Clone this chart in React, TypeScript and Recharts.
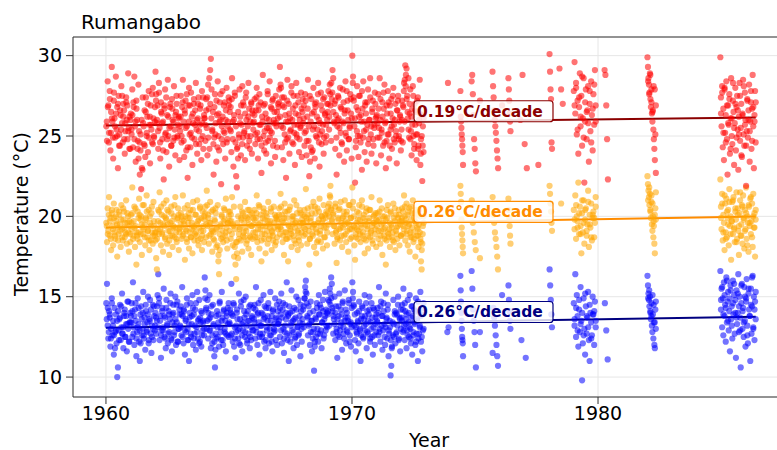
import {
  CartesianGrid,
  ReferenceDot,
  ReferenceLine,
  Scatter,
  ScatterChart,
  XAxis,
  YAxis,
} from 'recharts'

// observation periods (decimal years); each series lists its readings per period
const spans: Array<[number, number]> = [
  [1960, 1961], [1961, 1962], [1962, 1963], [1963, 1964], [1964, 1965],
  [1965, 1966], [1966, 1967], [1967, 1968], [1968, 1969], [1969, 1970],
  [1970, 1971], [1971, 1972], [1972, 1972.92],
  [1973.85, 1973.95], [1974.4, 1974.52], [1974.85, 1975.05], [1975.15, 1975.25],
  [1975.7, 1975.95], [1976.05, 1976.15], [1976.35, 1976.45], [1976.8, 1977.15],
  [1977.5, 1977.65], [1978.02, 1978.14], [1978.4, 1978.6], [1979.0, 1979.92],
  [1980.25, 1980.42], [1982.0, 1982.36], [1984.96, 1986.42],
]

const redObs = [
  '25.6 24.7 28.4 26.9 25.2 27.8 24.1 26.5 29.3 25.9 23.6 27.2 26.1 24.9 28.7 25.4 26.8 23.0 27.5 25.1 24.4 26.3 28.1 25.8 24.6 27.0 26.6 23.9 25.3 27.4 26.0 24.8 28.9 25.5 26.2 24.2',
  '26.4 25.1 27.9 24.3 26.8 28.7 25.6 23.4 27.2 26.0 24.7 28.2 25.3 22.6 24.1 21.7 23.0 22.9 25.8 24.5 26.6 23.7 27.4 25.0 26.2 24.0 27.8 25.7 23.3 26.9 25.4 24.6 28.0 26.1 24.9 25.9',
  '29.0 27.6 25.8 26.9 24.2 28.3 25.5 23.6 27.1 26.4 24.8 25.9 22.3 26.7 27.9 25.2 24.0 26.3 28.5 25.0 23.1 26.8 25.6 24.4 27.3 26.0 24.7 28.1 25.4 23.8 26.5 27.0 24.9 25.7 26.2 23.5',
  '25.3 27.5 24.6 26.8 28.5 25.9 23.7 26.4 27.2 24.1 25.6 22.4 26.9 28.0 25.1 24.3 27.7 26.2 23.2 25.8 27.0 24.8 26.6 28.3 25.4 23.9 26.1 27.4 24.5 25.7 26.9 23.5 27.8 25.0 24.2 26.3',
  '26.1 24.7 27.3 25.5 23.8 28.2 26.7 24.2 29.1 29.8 27.9 25.3 26.5 22.6 24.9 27.6 25.8 23.4 26.3 28.4 25.0 24.1 27.1 26.0 22.0 25.6 27.8 24.5 26.9 25.2 23.6 26.6 28.0 24.8 25.9 27.4',
  '27.2 25.4 26.8 24.0 28.6 25.9 23.1 26.3 27.7 24.6 22.5 21.8 24.3 26.5 25.1 27.9 26.2 23.8 25.7 28.1 24.9 26.9 25.3 23.5 27.4 26.0 24.4 25.6 28.3 26.7 24.2 25.0 27.1 23.9 26.4 25.8',
  '25.9 27.3 24.5 26.6 28.0 25.2 23.6 26.9 27.6 24.8 25.7 22.7 26.2 28.8 25.0 24.1 27.0 26.4 23.9 25.5 27.8 24.7 26.0 28.4 25.3 23.3 26.7 27.2 24.4 25.8 26.5 23.7 27.5 25.6 24.3 26.1',
  '26.8 27.9 29.3 28.2 25.6 24.3 26.9 23.5 27.4 25.1 26.3 22.4 24.8 28.5 25.9 27.0 23.9 26.1 25.4 28.1 24.6 26.7 27.5 25.2 23.2 26.4 28.3 24.9 25.7 27.1 24.0 26.0 25.5 27.7 23.7 26.5',
  '25.8 26.9 24.4 27.6 25.3 23.8 26.2 28.5 24.7 22.5 23.4 25.9 27.3 26.4 24.1 28.0 25.6 23.6 26.8 27.1 24.9 25.4 28.3 26.0 23.1 25.1 27.7 24.5 26.6 25.7 23.9 27.4 26.3 24.6 25.0 27.0',
  '26.5 27.8 25.4 28.2 26.9 24.7 27.3 29.1 28.6 25.9 27.0 24.2 26.3 22.6 25.6 27.5 26.1 23.8 28.0 25.2 26.7 24.5 27.9 25.8 23.4 26.6 28.4 25.0 24.1 27.2 26.0 24.8 25.5 27.6 26.4 23.6',
  '30.0 28.7 27.4 25.6 22.1 24.3 26.8 28.1 25.0 23.7 26.2 27.5 24.6 25.9 22.9 26.7 28.4 25.3 24.0 27.1 26.4 23.4 25.7 27.9 24.8 26.0 28.6 25.1 23.9 26.5 27.2 24.4 25.5 27.7 26.1 23.3',
  '26.3 24.9 27.6 25.5 28.6 26.0 23.8 25.2 27.1 24.4 26.7 28.2 25.8 23.0 24.7 26.4 27.8 25.1 23.6 26.9 25.4 27.3 24.2 26.1 28.0 25.7 24.6 27.0 25.0 23.3 26.6 27.5 24.8 25.9 26.2 24.1',
  '25.4 27.2 24.6 26.8 28.3 25.9 29.4 28.8 29.2 27.5 26.1 28.6 24.9 26.4 27.9 25.3 23.8 26.7 28.1 25.0 24.2 27.0 25.7 26.5 23.5 25.1 27.4 24.4 26.0 28.5 23.2 24.8 26.3 22.2 25.6 24.0',
  '28.3',
  '27.8 26.2 25.9 25.5 25.1 24.8 24.4 24.0 23.2',
  '28.4 28.8 27.6 26.3 24.8 24.2 23.3 22.8',
  '27.2',
  '29.0 28.1 27.4 26.6 26.0 25.6 25.2 24.7 24.1 23.6 23.0',
  '26.9',
  '28.6 27.9 27.2 26.4 25.9 25.3',
  '26.0 28.8 24.5 23.0',
  '23.2',
  '30.1 29.0 27.9 27.3 24.6 24.2',
  '29.2 27.9 27.0',
  '27.8 29.6 26.4 28.3 25.1 27.2 23.9 26.8 28.9 25.6 27.5 24.4 26.1 28.6 22.1 25.9 27.9 24.8 26.6 28.1 23.4 27.0 25.3 28.4 26.3 24.1 27.6 25.7 29.1 26.9',
  '29.1 28.8 26.9 24.8 22.3',
  '29.9 29.3 28.6 28.2 27.7 28.9 27.3 26.8 27.9 26.4 25.9 26.6 25.4 24.8 24.2 23.5 25.1 22.7',
  '29.9 27.4 25.6 28.1 24.3 26.7 23.5 27.9 25.2 26.3 28.4 24.8 22.6 26.9 25.7 27.6 23.9 26.1 28.6 25.0 24.5 27.2 26.5 23.2 25.8 28.0 24.1 26.8 27.5 25.4 22.9 26.2 28.3 24.7 25.5 27.0 23.7 26.4 28.5 25.1 24.4 27.7 26.0 21.9 25.3 27.3 24.9 26.6 28.2 23.4 25.9 27.1 24.2 26.7 28.8 25.6 23.0 26.3 27.8 24.6',
]

// second pass of readings in the same periods (fills the dense core)
const redExtra = [
  '25.9 26.8 24.6 27.3 25.2 26.1 24.9 27.7 25.6 26.4 25.0 27.0 24.4 26.6 25.4 27.5 26.2 24.8 25.8 27.1 26.9 25.3 24.2 26.0',
  '25.4 26.3 27.1 24.8 25.9 26.7 24.2 23.6 24.6 25.1 26.0 27.4 25.6 24.4 26.5 25.2 27.0 24.9 26.2 25.7 27.6 24.5 25.0 26.8',
  '27.2 26.0 25.3 27.7 24.6 26.5 25.8 24.1 26.9 25.1 27.4 24.8 26.2 25.5 27.0 24.4 26.7 25.9 24.9 26.3 27.5 25.0 26.1 25.6',
  '26.2 25.0 27.1 24.7 26.6 25.5 27.6 24.3 25.9 26.9 25.2 24.9 26.4 27.3 25.7 24.5 26.0 27.0 25.3 26.7 24.8 25.8 27.4 26.1',
  '25.7 26.6 27.4 24.9 28.6 27.0 26.1 25.4 24.5 26.8 25.1 27.2 24.3 26.4 25.9 27.6 24.8 26.2 25.3 27.1 26.0 24.6 25.6 26.9',
  '26.5 25.3 27.3 24.8 26.0 27.5 25.6 24.2 23.6 24.9 25.8 26.9 24.5 27.1 25.2 26.4 27.7 25.0 26.2 24.7 25.9 27.0 26.6 25.4',
  '26.3 25.1 27.4 24.8 26.6 25.7 27.1 24.4 25.9 26.9 25.3 24.6 26.1 27.6 25.5 24.9 26.8 25.2 27.3 26.0 24.7 25.8 26.5 27.0',
  '27.1 26.2 28.0 27.4 25.5 26.8 24.6 25.9 27.2 24.9 26.4 25.3 27.7 26.0 24.5 25.7 26.9 25.1 27.5 26.3 24.8 25.6 26.7 27.3',
  '26.1 25.2 27.2 24.7 26.7 25.6 27.5 24.3 24.0 25.4 26.5 27.0 25.0 26.2 27.6 24.6 25.8 26.9 25.3 27.3 24.9 26.4 25.7 26.0',
  '27.0 26.2 27.6 28.3 27.7 26.5 25.8 27.2 24.9 26.0 27.4 25.5 26.8 24.6 25.9 27.1 26.4 25.2 27.8 26.6 24.8 25.6 27.3 26.1',
  '28.3 27.2 26.1 24.7 25.3 26.6 27.5 25.0 26.3 27.8 24.9 25.9 26.9 25.4 27.1 24.5 26.0 27.4 25.6 26.7 24.8 25.7 27.0 26.2',
  '25.8 26.7 24.9 27.3 25.4 26.2 27.7 24.6 25.9 26.9 25.1 27.1 24.4 26.4 25.6 27.5 24.8 26.0 25.3 26.6 27.2 25.0 26.3 24.7',
  '26.0 26.9 27.8 28.5 28.1 27.3 26.5 25.4 27.0 24.8 26.2 25.7 27.5 24.5 26.6 25.1 27.2 24.2 25.8 26.4 23.9 25.0 24.4 26.1',
  '', '', '', '', '', '', '', '', '', '', '',
  '26.9 28.0 25.4 27.4 26.2 28.7 24.9 27.1 26.5 25.8 27.8 24.6 26.7 28.2 25.9',
  '',
  '28.4 27.6 28.8 27.1 26.5 28.1 27.9 26.9',
  '26.4 27.7 25.2 28.0 24.6 26.9 25.8 27.3 24.2 26.1 28.3 25.5 27.0 24.9 26.6 25.1 27.5 23.8 26.3 28.1 25.7 24.4 27.2 26.0 25.3 27.8 24.7 26.8 25.9 27.1',
]

const orangeObs = [
  '19.6 18.4 20.5 19.1 21.2 18.8 19.9 17.9 20.2 19.4 18.2 20.8 19.0 18.6 19.7 20.4 17.5 19.3 18.9 20.1 19.5 18.1 20.7 19.2 18.5 19.8 20.3 18.7 19.0 21.0 18.3 19.6 20.0 17.8 19.4 18.9',
  '20.1 19.2 21.8 18.6 19.7 20.6 18.1 19.4 17.0 18.8 20.3 19.0 21.1 18.4 19.8 20.0 17.6 19.3 18.9 20.7 19.5 18.2 19.9 21.3 18.7 19.1 20.4 17.9 19.6 18.5 20.2 19.0 18.3 20.9 19.4 18.8',
  '18.5 17.4 16.7 19.2 20.4 18.9 21.5 19.6 18.2 20.1 19.0 17.8 20.8 19.4 18.6 19.9 21.0 18.3 19.5 20.3 17.6 19.1 18.8 20.6 19.7 18.1 19.3 20.0 18.7 21.2 19.0 18.4 19.8 20.5 17.9 19.2',
  '19.3 20.2 18.6 19.8 21.3 18.9 19.5 17.3 20.0 19.1 18.4 20.7 19.6 18.0 19.9 20.4 18.7 19.2 17.7 20.9 19.4 18.5 20.1 19.0 18.8 21.0 19.7 18.2 19.3 20.5 18.6 19.9 17.9 20.3 19.1 18.4',
  '19.8 20.6 18.7 21.6 19.4 20.1 18.3 19.6 20.9 18.9 19.2 17.8 20.4 19.0 18.5 19.7 20.2 18.1 19.3 20.7 17.2 16.4 17.9 19.5 18.6 20.0 19.1 18.4 20.5 19.8 18.8 21.1 19.3 18.0 19.6 20.3',
  '19.1 20.3 18.6 19.7 21.2 18.2 19.4 17.5 18.1 17.0 16.1 18.4 19.6 20.0 18.9 19.2 20.6 18.5 19.8 17.8 20.2 19.0 18.7 20.9 19.3 18.3 19.9 20.4 18.0 19.5 18.8 20.1 17.6 19.4 18.6 19.9',
  '19.5 20.4 18.7 19.9 21.3 18.4 19.2 20.7 18.0 19.6 20.1 17.2 18.9 19.4 20.5 18.6 19.8 17.7 20.2 19.1 18.3 20.9 19.5 18.8 19.7 20.3 17.9 19.0 18.5 20.6 19.3 18.2 19.9 20.0 18.7 19.4',
  '19.8 20.5 18.9 21.4 19.2 20.1 18.4 19.6 17.6 20.8 19.0 18.6 19.9 20.3 17.2 19.4 18.7 20.6 19.1 18.1 20.0 19.5 18.8 21.0 19.3 18.3 19.7 20.2 17.9 19.0 18.5 20.4 19.6 18.2 19.8 20.1',
  '19.6 18.8 20.4 19.2 21.7 19.9 18.3 20.1 19.4 17.0 18.6 19.7 20.6 18.9 19.3 20.9 18.1 19.5 20.2 17.7 19.0 20.5 18.5 19.8 21.1 19.1 18.4 20.0 19.6 18.0 20.7 19.3 18.7 19.9 20.3 18.2',
  '20.2 19.5 20.8 21.3 21.9 20.5 19.8 18.9 20.1 19.4 18.3 20.6 19.0 17.1 18.7 19.9 20.4 19.2 18.5 20.9 19.6 18.1 19.3 20.0 18.8 21.0 19.7 18.4 20.3 19.1 17.8 19.5 20.7 18.6 19.9 19.2',
  '21.8 20.9 19.4 18.2 17.3 18.9 19.6 20.3 18.6 19.1 20.7 19.8 18.4 19.3 21.0 18.8 19.9 20.1 17.7 19.5 18.5 20.5 19.2 18.0 19.7 20.4 18.7 19.0 21.2 19.4 18.3 20.0 19.6 18.9 20.2 18.1',
  '19.4 20.2 18.6 19.8 21.0 18.3 19.1 20.5 17.6 19.6 18.8 20.0 19.3 17.0 18.5 19.9 20.7 18.9 19.2 18.1 20.3 19.5 18.7 19.0 20.8 18.4 19.7 17.9 20.1 19.3 18.6 19.9 20.4 18.2 19.5 18.8',
  '19.7 20.5 18.9 19.4 21.3 20.0 18.5 19.8 20.8 19.1 18.2 20.3 19.5 17.8 19.0 20.6 18.7 19.3 21.0 18.4 19.9 20.2 17.5 19.6 18.8 20.1 19.2 18.1 20.4 19.0 18.6 17.2 16.7 18.3 19.4 20.0',
  '',
  '21.9 21.4 20.9 19.8 19.3 18.9 18.5 18.1 17.7',
  '21.0 19.6 19.0 18.4 17.9',
  '17.4',
  '21.2 20.1 19.6 19.0 18.6 18.1 17.5 16.7',
  '',
  '21.1 20.4 19.9 19.4 18.8 18.3',
  '',
  '',
  '21.9 21.4 20.8 20.3 19.6 19.1',
  '20.8',
  '20.4 19.2 21.3 18.6 20.0 19.7 22.1 18.9 20.6 19.4 17.7 20.2 19.0 21.0 18.3 19.8 20.5 18.8 19.5 21.6 18.1 20.1 19.3 20.8 18.5 19.9 20.3 18.7 19.6 21.2',
  '',
  '22.5 22.0 21.6 21.2 20.7 21.4 20.3 19.9 20.9 19.5 19.1 20.0 18.7 19.4 18.3 17.7 20.5 19.8',
  '22.3 20.6 19.2 21.4 18.5 20.1 19.6 17.9 20.8 19.0 21.1 18.7 19.9 20.4 18.2 21.7 19.4 20.0 17.3 19.7 20.9 18.9 21.2 19.3 18.4 20.3 19.8 21.5 18.6 20.5 19.1 17.6 20.2 21.0 18.8 19.5 20.7 18.3 21.3 19.9 18.0 20.4 19.2 21.8 18.6 20.0 19.6 17.8 20.6 19.4 21.1 18.9 19.7 20.8 18.1 21.4 19.3 20.2 17.5 19.8',
]

const orangeExtra = [
  '19.4 18.9 20.1 19.7 18.6 20.4 19.2 19.9 18.8 20.0 19.5 18.5 20.3 19.1 19.8 18.7 20.5 19.3 19.6 18.9 20.2 19.0 19.7 18.4',
  '19.6 20.2 18.8 19.3 20.5 19.0 18.6 19.9 20.1 18.9 19.5 20.7 19.2 18.7 19.8 20.3 19.1 18.5 20.0 19.4 20.6 18.8 19.7 19.0',
  '19.0 18.6 19.7 20.3 19.2 20.6 18.9 19.5 20.0 18.7 19.8 20.4 19.1 18.5 19.6 20.2 18.8 19.4 20.7 19.3 18.6 19.9 20.1 19.0',
  '19.5 20.0 18.8 19.7 20.5 19.2 18.6 19.9 20.2 19.0 18.7 19.6 20.4 19.3 18.9 20.1 19.5 18.5 19.8 20.6 19.1 18.8 19.4 20.0',
  '20.2 19.5 20.7 19.9 18.8 19.6 20.3 19.1 18.6 19.8 20.5 19.2 18.2 17.6 18.9 19.4 20.1 18.7 19.7 20.4 19.0 18.5 19.6 20.0',
  '19.7 20.1 18.9 19.5 20.6 19.2 18.4 17.7 17.4 18.6 19.3 19.9 20.3 18.8 19.6 20.0 19.1 18.5 19.8 20.4 18.7 19.4 20.2 19.0',
  '19.8 19.0 20.2 18.7 19.5 20.6 19.2 18.5 19.9 20.3 18.9 19.4 20.0 19.7 18.6 19.3 20.5 19.1 18.8 19.6 20.1 18.4 19.8 19.2',
  '20.1 19.3 20.6 19.7 18.8 19.9 20.3 19.0 18.6 19.5 20.4 19.2 18.9 19.8 20.0 18.5 19.6 20.7 19.1 18.7 19.4 20.2 19.0 19.6',
  '19.3 20.0 18.9 19.7 20.5 19.1 18.6 19.9 20.2 18.8 19.5 20.6 19.2 18.4 19.6 20.3 18.9 19.4 20.0 19.8 18.7 20.1 19.3 19.0',
  '20.6 20.0 21.2 20.4 19.7 20.2 19.4 20.8 19.1 18.6 19.8 20.5 19.3 18.8 19.9 20.3 19.5 18.9 20.1 19.6 20.7 19.2 19.9 18.7',
  '20.5 20.0 19.3 18.7 19.2 19.8 20.2 18.9 19.5 20.6 19.0 18.6 19.7 20.3 19.4 18.8 19.9 20.4 19.1 18.5 19.6 20.1 19.2 19.8',
  '19.7 19.1 20.3 18.8 19.5 20.0 19.2 18.6 19.8 20.4 19.0 18.7 19.6 20.2 19.3 18.5 19.9 20.5 19.1 18.9 19.4 20.1 19.7 18.8',
  '19.9 20.3 19.2 20.6 19.6 18.9 20.1 19.4 20.5 18.7 19.8 20.2 19.0 18.6 19.7 20.4 19.3 18.8 19.5 20.0 18.4 17.9 18.9 19.6',
  '', '', '', '', '', '', '', '', '', '', '',
  '19.8 20.7 19.3 20.2 18.9 21.0 19.6 20.4 19.1 20.9 19.5 18.7 20.1 19.9 20.6',
  '',
  '21.0 21.8 20.4 21.3 20.8 19.7 20.1 21.5',
  '19.9 20.8 19.0 21.3 18.6 20.3 19.5 20.9 18.9 19.7 21.0 19.2 20.5 18.4 20.1 19.4 21.5 18.8 20.6 19.8 19.1 20.2 18.2 20.7 19.6 21.2 18.7 20.0 19.3 20.4',
]

const blueObs = [
  '14.6 15.8 13.2 12.4 14.1 13.7 11.9 13.0 14.9 12.6 13.5 11.4 14.3 12.8 13.9 12.1 10.0 10.6 12.9 13.6 14.5 12.3 13.1 15.2 12.7 11.8 13.8 14.2 12.5 13.3 11.6 14.7 13.0 12.2 13.4 14.0',
  '13.8 14.6 12.5 15.9 13.1 12.0 14.2 13.5 11.3 12.8 14.9 13.3 12.2 11.0 13.9 14.4 12.6 13.0 15.3 12.4 13.7 11.7 14.1 12.9 13.4 15.0 12.1 13.6 14.8 12.7 11.5 13.2 14.5 12.3 13.8 12.9',
  '14.0 12.7 13.5 15.1 16.4 14.6 12.3 13.8 11.2 12.9 14.3 13.1 15.5 12.5 13.7 11.8 14.8 13.3 12.1 14.1 12.8 13.6 15.2 12.4 11.6 13.9 14.5 12.6 13.2 15.0 12.0 13.4 14.7 12.2 13.0 14.2',
  '13.2 14.4 12.6 15.6 13.8 12.1 14.1 11.4 13.5 12.8 14.9 13.0 12.3 11.0 13.7 14.6 12.5 13.3 15.1 12.0 13.9 12.7 14.2 11.7 13.1 15.3 12.4 13.6 14.8 12.2 13.4 11.9 14.0 12.9 13.5 12.6',
  '16.2 15.4 14.3 13.0 14.8 12.4 13.6 15.1 12.9 11.8 13.9 12.1 14.5 13.2 11.3 10.6 12.7 13.8 14.1 12.5 13.4 11.9 14.7 13.1 12.3 15.3 13.7 12.0 14.2 12.8 13.5 11.6 14.0 12.6 13.3 14.6',
  '13.4 14.2 12.6 15.8 13.9 12.2 14.6 11.9 13.1 11.2 12.8 14.0 13.6 12.4 15.2 13.0 12.0 14.4 13.3 11.6 12.9 14.8 13.7 12.5 15.0 13.2 12.1 14.1 12.7 13.5 11.8 14.5 12.3 13.8 12.9 14.3',
  '13.6 14.5 12.4 15.6 13.1 12.0 14.0 13.4 11.4 12.7 14.8 13.2 12.5 13.9 15.1 12.2 13.7 11.8 14.3 12.9 13.5 14.6 12.1 13.0 15.3 12.6 13.8 11.6 14.2 12.8 13.3 14.9 12.3 13.6 12.0 14.1',
  '13.3 14.7 12.5 13.9 15.2 12.1 14.2 13.0 11.5 12.8 14.5 13.6 15.9 12.3 13.8 11.0 12.6 14.0 13.2 15.4 12.9 13.5 11.8 14.3 12.4 13.7 15.0 12.0 13.1 14.8 12.7 13.4 11.3 14.1 12.2 13.6',
  '14.2 13.1 14.9 15.6 16.0 15.2 13.8 12.6 14.4 13.3 12.0 14.7 13.5 11.6 12.8 14.1 10.4 11.9 13.7 12.5 14.6 13.0 12.2 15.1 13.9 12.7 14.3 11.8 13.4 14.8 12.4 13.6 15.3 12.9 13.2 14.0',
  '13.9 14.8 13.2 15.5 14.5 16.2 15.8 14.1 12.7 13.6 15.0 12.3 14.4 13.0 11.2 12.6 13.8 15.2 12.9 14.2 13.4 11.7 14.7 13.1 12.4 15.4 13.7 12.1 14.0 12.8 13.5 14.6 12.2 13.3 11.9 14.3',
  '15.9 15.3 14.4 13.2 12.3 11.6 12.8 14.0 13.5 12.1 14.7 13.0 11.0 12.6 13.8 14.3 12.4 13.6 15.1 12.9 13.3 11.8 14.1 12.7 13.9 15.0 12.2 13.4 14.6 12.5 11.4 13.1 14.2 12.0 13.7 12.8',
  '13.5 14.3 12.6 15.6 13.0 12.2 14.7 13.8 11.7 12.9 14.1 13.3 12.0 15.2 13.6 12.4 14.5 11.3 12.7 13.1 10.1 10.7 11.9 13.4 14.8 12.5 13.9 12.1 14.0 12.8 13.2 15.0 12.3 13.7 11.6 14.2',
  '13.7 14.5 12.8 15.5 13.2 12.3 14.1 13.6 11.8 12.9 14.8 13.4 12.5 15.1 13.0 12.1 14.4 11.4 13.8 12.6 14.2 13.3 12.0 14.9 12.7 13.5 11.0 12.4 14.0 13.1 15.3 12.2 13.9 11.6 12.9 14.6',
  '12.8 13.1',
  '16.3 15.4 14.7 14.0 13.5 13.0 12.5 12.3 12.1 11.3',
  '16.6 15.5 14.2 13.5 12.8 12.0 10.6',
  '12.8',
  '11.5 14.3 13.7 13.2 12.6 12.0 11.3 10.7',
  '15.1',
  '15.7 14.8 14.1 13.5 13.0',
  '12.3 11.2',
  '',
  '16.7 15.7 14.8 13.9 13.1',
  '',
  '14.6 13.2 16.4 12.5 15.1 13.8 11.9 14.2 12.8 15.6 13.5 9.8 12.1 14.9 13.0 11.4 14.4 12.7 13.7 15.3 12.3 11.0 14.0 13.4 12.6 15.0 13.9 12.0 14.7 13.1',
  '14.6 12.9 11.1',
  '16.3 15.7 15.2 14.8 14.4 15.0 14.0 13.6 14.6 13.2 12.8 13.9 12.4 13.4 12.0 11.8 14.2 13.0',
  '16.6 14.2 15.5 13.1 14.9 12.6 15.9 13.8 14.5 12.2 16.2 13.4 14.7 15.3 12.9 14.1 11.6 15.7 13.6 14.4 12.4 16.0 13.9 15.1 12.7 14.8 11.2 15.4 13.3 14.0 16.4 12.8 15.0 13.7 10.6 14.6 15.8 13.0 14.3 12.5 15.6 13.5 11.9 14.9 16.1 13.2 12.1 15.2 14.2 13.8 11.0 15.5 12.7 14.4 16.3 13.1 15.0 12.3 14.7 13.6',
]

const blueExtra = [
  '13.6 14.3 12.8 13.9 12.4 14.6 13.2 12.6 11.8 12.9 13.5 14.1 12.3 13.7 14.4 12.7 13.1 14.0 12.5 13.8 13.3 14.7 12.2 13.4',
  '13.4 14.1 12.7 13.8 14.6 12.4 13.1 14.3 12.9 12.1 13.6 14.0 12.6 13.3 14.5 12.8 13.9 12.3 13.5 14.2 12.5 13.0 14.4 13.2',
  '13.7 14.4 13.1 14.9 13.5 12.6 14.1 12.9 13.8 12.4 14.3 13.2 12.7 13.9 14.6 12.3 13.4 14.0 12.8 13.6 14.5 12.2 13.0 13.9',
  '13.1 13.9 12.5 14.2 12.9 13.6 14.5 12.3 13.3 14.0 12.7 13.8 14.3 12.4 13.2 14.6 12.8 13.5 12.1 13.7 14.1 12.6 13.4 13.0',
  '14.9 14.2 13.5 14.0 12.9 13.7 14.4 12.6 13.3 12.2 11.7 12.4 13.1 13.9 14.6 12.8 13.5 12.3 14.1 13.0 12.7 13.8 14.3 12.5',
  '13.3 14.0 12.7 13.8 14.5 12.4 13.2 14.2 12.9 12.1 13.6 14.7 12.6 13.4 14.1 12.8 13.9 12.3 13.5 14.4 12.5 13.1 13.7 12.9',
  '13.4 14.2 12.8 13.9 14.6 12.5 13.2 14.0 12.7 13.6 14.4 12.3 13.1 13.8 14.3 12.6 13.5 12.2 14.1 13.0 12.9 13.7 14.5 13.3',
  '13.5 14.3 12.9 13.7 14.6 12.4 13.2 14.0 12.7 13.9 14.4 12.2 13.4 14.1 12.8 13.6 12.5 14.2 13.1 12.6 13.8 14.5 13.0 13.3',
  '14.4 14.9 15.3 14.6 13.7 13.2 14.0 12.8 13.5 12.4 13.0 12.2 13.6 14.3 12.7 13.9 14.5 12.9 13.4 14.1 12.6 13.8 14.2 13.1',
  '14.1 14.7 15.2 14.9 14.3 13.8 13.3 14.0 12.8 13.6 14.4 12.5 13.2 13.9 14.6 12.7 13.5 14.2 12.9 13.7 14.8 12.6 13.4 13.1',
  '14.9 14.5 13.9 13.1 12.7 13.4 14.1 12.9 13.6 14.4 12.5 13.2 13.8 14.6 12.8 13.5 14.2 12.4 13.0 13.7 14.3 12.6 13.3 13.9',
  '13.4 14.0 12.8 14.4 13.2 13.8 14.6 12.5 13.1 13.7 14.2 12.9 13.5 12.3 11.8 12.6 13.3 14.1 12.7 13.9 14.5 12.4 13.6 13.0',
  '13.5 14.2 12.9 14.6 13.3 13.9 12.6 14.0 13.1 12.4 13.7 14.4 12.8 13.4 14.1 12.2 13.6 14.7 12.7 13.2 13.8 12.5 14.3 13.0',
  '', '', '', '', '', '', '', '', '', '', '',
  '13.6 14.3 12.9 14.8 13.3 14.0 12.6 15.2 13.8 13.1 14.5 12.4 13.9 14.1 13.5',
  '',
  '14.9 15.4 14.1 13.8 15.1 14.5 13.4 14.7',
  '14.8 15.6 13.9 15.1 14.3 16.0 13.5 14.9 15.4 13.2 14.6 15.8 14.0 13.7 15.2 14.4 12.9 15.7 14.1 13.4 15.0 14.7 12.6 15.5 13.8 14.5 16.2 13.0 14.2 15.3',
]

// linear trends: value at first and last year
const trendYears = [1960.0, 1986.41]
const redTrend = [25.65, 26.15]
const orangeTrend = [19.3, 19.99]
const blueTrend = [13.07, 13.76]
const trendLabels = ['0.19°C/decade', '0.26°C/decade', '0.26°C/decade']
const labelYear = 1972.52

const xTicks = [1960, 1970, 1980]
const yTicks = [10, 15, 20, 25, 30]
const xDomain = [1958.66, 1987.6]
const yDomain = [8.76, 31.16]

const FONT = 'DejaVu Sans, Verdana, sans-serif'

function toPoints(obs: string[], shift = 0) {
  return spans.flatMap(([a, b], i) => {
    const s = (obs[i] || '').trim()
    if (!s) return []
    const vals = s.split(/\s+/).map(Number)
    return vals.map((y, k) => ({ x: a + ((b - a) * (k + 0.5 + shift)) / vals.length, y }))
  })
}

const dot = (color: string) => (p: any) => (
  <circle cx={p.cx} cy={p.cy} r={3.1} fill={color} fillOpacity={0.55} />
)

const at = (trend: number[], year: number) =>
  trend[0] + ((trend[1] - trend[0]) * (year - trendYears[0])) / (trendYears[1] - trendYears[0])

const labelBox = (text: string, color: string) => (p: any) => (
  <g>
    <rect
      x={p.cx}
      y={p.cy - 21}
      width={139}
      height={21}
      rx={3}
      fill='#fff'
      fillOpacity={0.8}
      stroke={color}
      strokeWidth={1.2}
    />
    <text
      x={p.cx + 3}
      y={p.cy - 5}
      fill={color}
      fontSize={15.5}
      fontWeight='bold'
      fontFamily={FONT}
    >
      {text}
    </text>
  </g>
)

export default function App() {
  const series = [
    { obs: blueObs, extra: blueExtra, color: '#0000ff' },
    { obs: orangeObs, extra: orangeExtra, color: '#ffa500' },
    { obs: redObs, extra: redExtra, color: '#ff0000' },
  ]
  const trends = [
    { t: redTrend, color: '#8b0000', label: trendLabels[0] },
    { t: orangeTrend, color: '#ff8c00', label: trendLabels[1] },
    { t: blueTrend, color: '#000080', label: trendLabels[2] },
  ]
  return (
    <div
      style={{
        position: 'fixed',
        left: 0,
        top: 0,
        width: 777,
        height: 450,
        overflow: 'hidden',
        background: '#fff',
      }}
    >
      <ScatterChart width={800} height={450} margin={{ top: 37, right: 15, bottom: 0, left: 0 }}>
        <CartesianGrid stroke='#e6e6e6' />
        <XAxis
          type='number'
          dataKey='x'
          domain={xDomain}
          allowDataOverflow
          ticks={xTicks}
          height={53}
          tickSize={7}
          tickMargin={3}
          stroke='#333'
          tick={{ fill: '#000', fontSize: 19, fontFamily: FONT }}
        />
        <YAxis
          type='number'
          dataKey='y'
          domain={yDomain}
          allowDataOverflow
          ticks={yTicks}
          width={73}
          tickSize={7}
          tickMargin={4}
          stroke='#333'
          tick={{ fill: '#000', fontSize: 19, fontFamily: FONT }}
        />
        <ReferenceLine y={yDomain[1]} stroke='#333' />
        {series.map((s) => (
          <Scatter
            key={s.color}
            data={[...toPoints(s.obs), ...toPoints(s.extra, 0.3)]}
            shape={dot(s.color)}
            isAnimationActive={false}
          />
        ))}
        {trends.map((tr) => (
          <ReferenceLine
            key={tr.color}
            segment={[
              { x: trendYears[0], y: tr.t[0] },
              { x: trendYears[1], y: tr.t[1] },
            ]}
            stroke={tr.color}
            strokeWidth={2}
          />
        ))}
        {trends.map((tr) => (
          <ReferenceDot
            key={'l' + tr.color}
            x={labelYear}
            y={at(tr.t, labelYear)}
            r={0}
            shape={labelBox(tr.label, tr.color)}
          />
        ))}
      </ScatterChart>
      <svg
        width={777}
        height={450}
        style={{ position: 'absolute', left: 0, top: 0, pointerEvents: 'none' }}
      >
        <text x={81} y={29} fontSize={20} fontFamily={FONT} fill='#000'>
          Rumangabo
        </text>
        <text x={429} y={447} fontSize={19} fontFamily={FONT} fill='#000' textAnchor='middle'>
          Year
        </text>
        <text
          x={28}
          y={214}
          transform='rotate(-90 28 214)'
          fontSize={19}
          fontFamily={FONT}
          fill='#000'
          textAnchor='middle'
        >
          Temperature (°C)
        </text>
      </svg>
    </div>
  )
}
